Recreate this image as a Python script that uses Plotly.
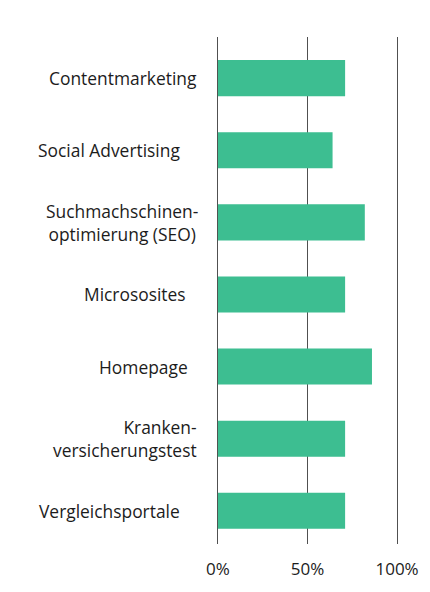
import plotly.graph_objects as go

# Survey results: share of respondents per marketing channel (in %)
categories = [
    "Contentmarketing",
    "Social Advertising",
    "Suchmachschinen-<br>optimierung (SEO)",
    "Micrososites",
    "Homepage",
    "Kranken-<br>versicherungstest",
    "Vergleichsportale",
]
values = [71, 64, 82, 71, 86, 71, 71]
tick_values = [0, 50, 100]
tick_labels = ["0%", "50%", "100%"]

# label placement tweaks (horizontal offset in px, text alignment)
label_shift = [-10, -27, -9, -21, -19, -10, -27]
label_align = ["right", "right", "center", "right", "right", "right", "right"]

BAR = "#3dbe91"
GRID = "#505050"
TEXT = "#1c1c1c"
FONT = "Open Sans"

fig = go.Figure()
fig.add_trace(go.Bar(
    x=values,
    y=categories,
    orientation="h",
    width=0.5,
    marker=dict(color=BAR, line=dict(width=0)),
    hoverinfo="skip",
))

for cat, dx, al in zip(categories, label_shift, label_align):
    fig.add_annotation(
        x=0, xref="paper", y=cat, yref="y",
        text=cat, showarrow=False,
        xanchor="right", yanchor="middle", align=al,
        xshift=dx,
        font=dict(family=FONT, size=17.4, color=TEXT),
    )

fig.update_layout(
    width=430, height=592,
    margin=dict(l=209, r=18, t=37, b=48),
    paper_bgcolor="white", plot_bgcolor="white",
    showlegend=False,
    bargap=0.5,
    xaxis=dict(
        range=[-5, 105],
        tickvals=tick_values, ticktext=tick_labels,
        showgrid=True, gridcolor=GRID, gridwidth=1.3,
        zeroline=False, showline=False,
        ticks="", ticklabelstandoff=13,
        tickfont=dict(family=FONT, size=17, color=TEXT),
        fixedrange=True,
    ),
    yaxis=dict(
        categoryorder="array", categoryarray=categories,
        range=[6.46, -0.57],
        showticklabels=False, showgrid=False, zeroline=False,
        ticks="", fixedrange=True,
    ),
)

fig.write_html("out.html")
